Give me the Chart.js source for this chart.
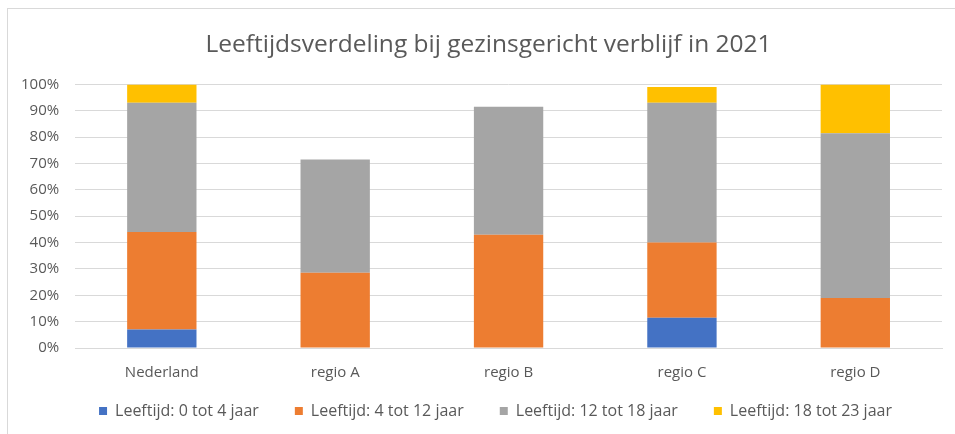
<!DOCTYPE html>
<html>
<head>
<meta charset="utf-8">
<script src="https://cdn.jsdelivr.net/npm/chart.js@4"></script>
<style>
  html, body { margin: 0; padding: 0; background: #fff; overflow: hidden; }
  #frame { position: absolute; left: 7px; top: 8px; width: 960px; height: 440px; border: 1px solid #d9d9d9; box-sizing: border-box; }
  #wrap { position: absolute; left: 0; top: 0; width: 955px; height: 434px; }
</style>
</head>
<body>
<div id="frame"></div>
<div id="wrap"><canvas id="myChart"></canvas></div>
<script>
let regions = ["Nederland", "regio A", "regio B", "regio C", "regio D"];
let age0to4 = [7, 0, 0, 11.5, 0];
let age4to12 = [37, 28.5, 43, 28.5, 19];
let age12to18 = [49, 43, 48.5, 53, 62.5];
let age18to23 = [7, 0, 0, 6, 18.5];
let yTicks = [0, 10, 20, 30, 40, 50, 60, 70, 80, 90, 100];

let textColor = "#595959";
let font = "'Open Sans', sans-serif";

// nudge legend and title to where excel put them
let nudge = {
  id: "nudge",
  afterLayout(chart) {
    chart.legend.top -= 23;
    chart.legend.bottom -= 23;
    chart.legend.left += 22;
    chart.legend.right += 22;
    chart.titleBlock.left += 15;
    chart.titleBlock.right += 15;
  },
};

var ctx = document.getElementById("myChart").getContext("2d");
var myChart = new Chart(ctx, {
  type: "bar",
  data: {
    labels: regions,
    datasets: [
      { label: "Leeftijd: 0 tot 4 jaar", data: age0to4, backgroundColor: "#4472C4" },
      { label: "Leeftijd: 4 tot 12 jaar", data: age4to12, backgroundColor: "#ED7D31" },
      { label: "Leeftijd: 12 tot 18 jaar", data: age12to18, backgroundColor: "#A5A5A5" },
      { label: "Leeftijd: 18 tot 23 jaar", data: age18to23, backgroundColor: "#FFC000" },
    ],
  },
  plugins: [nudge],
  options: {
    responsive: true,
    maintainAspectRatio: false,
    animation: false,
    layout: { padding: { left: 5, right: 13, top: 0, bottom: -18 } },
    datasets: { bar: { categoryPercentage: 1, barPercentage: 0.4 } },
    plugins: {
      title: {
        display: true,
        text: "Leeftijdsverdeling bij gezinsgericht verblijf in 2021",
        color: textColor,
        font: { family: font, size: 24.5, weight: "normal" },
        padding: { top: 30, bottom: 25 },
      },
      legend: {
        position: "bottom",
        labels: {
          color: textColor,
          boxWidth: 8,
          boxHeight: 8,
          padding: 36,
          font: { family: font, size: 16 },
        },
      },
      tooltip: { enabled: false },
    },
    scales: {
      x: {
        stacked: true,
        grid: { display: false },
        border: { color: "#d9d9d9" },
        ticks: { color: textColor, font: { family: font, size: 15 }, padding: 8 },
      },
      y: {
        stacked: true,
        min: 0,
        max: 100,
        afterBuildTicks: (axis) => { axis.ticks = yTicks.map((v) => ({ value: v })); },
        grid: { color: "#d9d9d9", drawTicks: false },
        border: { display: false },
        ticks: {
          color: textColor,
          font: { family: font, size: 15 },
          padding: 16,
          callback: (v) => v + "%",
        },
      },
    },
  },
});
</script>
</body>
</html>
